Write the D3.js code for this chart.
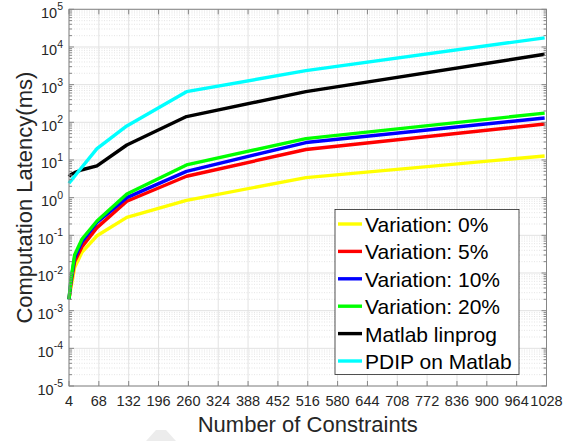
<!DOCTYPE html>
<html>
<head>
<meta charset="utf-8">
<script src="https://cdn.jsdelivr.net/npm/d3@7"></script>
<style>
  html, body { margin: 0; padding: 0; background: #fff; }
  svg { display: block; font-family: "Liberation Sans", Arial, sans-serif; }
</style>
</head>
<body>
<svg id="chart" width="576" height="441"></svg>
<script>
// ---- data ----
const constraints = [4, 8, 16, 32, 64, 128, 256, 512, 1024];
const seriesNames = ["Variation: 0%", "Variation: 5%", "Variation: 10%", "Variation: 20%", "Matlab linprog", "PDIP on Matlab"];
const seriesColors = ["#ffff00", "#ff0000", "#0000ff", "#00ff00", "#000000", "#00ffff"];
const var0  = [0.002, 0.004, 0.014, 0.036, 0.097, 0.30, 0.85, 3.4, 12.8];
const var5  = [0.002, 0.005, 0.020, 0.050, 0.16, 0.80, 3.7, 19, 90];
const var10 = [0.002, 0.006, 0.025, 0.068, 0.22, 1.0, 5.0, 29, 130];
const var20 = [0.002, 0.0065, 0.030, 0.080, 0.24, 1.25, 7.4, 37, 175];
const linprog = [3.6, 4.1, 4.6, 5.5, 7.0, 25, 142, 650, 6400];
const pdip  = [2.4, 2.8, 3.7, 6.5, 20, 80, 650, 2350, 17500];
const seriesValues = [var0, var5, var10, var20, linprog, pdip];
const xTicks = [4, 68, 132, 196, 260, 324, 388, 452, 516, 580, 644, 708, 772, 836, 900, 964, 1028];
const yExponents = [-5, -4, -3, -2, -1, 0, 1, 2, 3, 4, 5];

// ---- layout ----
const L = 69, R = 546.5, T = 9.3, B = 386;
const svg = d3.select("#chart");
const x = d3.scaleLinear().domain([4, 1028]).range([L, R]);
const y = d3.scaleLog().domain([1e-5, 1e5]).range([B, T]);

const axisCol = "#868686", textCol = "#262626";

// watermark (faint)
svg.append("path")
  .attr("d", "M146,441 L156,430 L166,430 L176,441 Z")
  .attr("fill", "#ececec");

// grid: minor horizontal (dotted)
const gGrid = svg.append("g");
for (let e = -5; e < 5; e++) {
  for (let m = 2; m <= 9; m++) {
    const v = m * Math.pow(10, e);
    gGrid.append("line")
      .attr("x1", L).attr("x2", R)
      .attr("y1", y(v)).attr("y2", y(v))
      .attr("stroke", "#dedede").attr("stroke-width", 0.8)
      .attr("stroke-dasharray", "1,1.5");
  }
}
// major horizontal grid
yExponents.forEach(e => {
  gGrid.append("line")
    .attr("x1", L).attr("x2", R)
    .attr("y1", y(Math.pow(10, e))).attr("y2", y(Math.pow(10, e)))
    .attr("stroke", "#e2e2e2").attr("stroke-width", 1);
});
// vertical grid
xTicks.forEach(t => {
  gGrid.append("line")
    .attr("x1", x(t)).attr("x2", x(t))
    .attr("y1", T).attr("y2", B)
    .attr("stroke", "#e2e2e2").attr("stroke-width", 1);
});

// ---- lines ----
const line = d3.line()
  .x((d, i) => x(constraints[i]))
  .y(d => y(d));
seriesValues.forEach((vals, k) => {
  svg.append("path")
    .datum(vals)
    .attr("d", line)
    .attr("fill", "none")
    .attr("stroke", seriesColors[k])
    .attr("stroke-width", 3.4)
    .attr("stroke-linejoin", "round");
});

// ---- axes box & ticks ----
const gAx = svg.append("g");
gAx.append("rect")
  .attr("x", L).attr("y", T).attr("width", R - L).attr("height", B - T)
  .attr("fill", "none").attr("stroke", axisCol).attr("stroke-width", 1);

xTicks.forEach(t => {
  gAx.append("line").attr("x1", x(t)).attr("x2", x(t)).attr("y1", B).attr("y2", B - 5)
    .attr("stroke", axisCol);
  gAx.append("line").attr("x1", x(t)).attr("x2", x(t)).attr("y1", T).attr("y2", T + 5)
    .attr("stroke", axisCol);
  gAx.append("text")
    .attr("x", x(t)).attr("y", 405.5)
    .attr("text-anchor", "middle")
    .attr("font-size", 14.5).attr("fill", textCol)
    .text(t);
});

for (let e = -5; e < 5; e++) {
  for (let m = 2; m <= 9; m++) {
    const v = m * Math.pow(10, e);
    gAx.append("line").attr("x1", L).attr("x2", L + 3).attr("y1", y(v)).attr("y2", y(v)).attr("stroke", axisCol);
    gAx.append("line").attr("x1", R).attr("x2", R - 3).attr("y1", y(v)).attr("y2", y(v)).attr("stroke", axisCol);
  }
}
yExponents.forEach(e => {
  const yy = y(Math.pow(10, e));
  gAx.append("line").attr("x1", L).attr("x2", L + 5).attr("y1", yy).attr("y2", yy).attr("stroke", axisCol);
  gAx.append("line").attr("x1", R).attr("x2", R - 5).attr("y1", yy).attr("y2", yy).attr("stroke", axisCol);
  const txt = gAx.append("text")
    .attr("x", 63).attr("y", yy + 8.5)
    .attr("text-anchor", "end")
    .attr("font-size", 14.5).attr("fill", textCol);
  txt.append("tspan").text("10");
  txt.append("tspan").attr("dy", -7.5).attr("font-size", 10.5).text(String(e));
});

// axis labels
svg.append("text")
  .attr("x", (L + R) / 2).attr("y", 431.5)
  .attr("text-anchor", "middle")
  .attr("font-size", 22).attr("fill", textCol)
  .text("Number of Constraints");
svg.append("text")
  .attr("transform", `translate(31.5,${(T + B) / 2}) rotate(-90)`)
  .attr("text-anchor", "middle")
  .attr("font-size", 22).attr("fill", textCol)
  .text("Computation Latency(ms)");

// ---- legend ----
const lg = svg.append("g");
lg.append("rect")
  .attr("x", 335).attr("y", 209.5).attr("width", 184).attr("height", 165)
  .attr("fill", "#fff").attr("stroke", "#262626").attr("stroke-width", 0.8);
seriesNames.forEach((name, k) => {
  const cy = 224 + k * 27.4;
  lg.append("line").attr("x1", 338).attr("x2", 362).attr("y1", cy).attr("y2", cy)
    .attr("stroke", seriesColors[k]).attr("stroke-width", 3.4);
  lg.append("text").attr("x", 365).attr("y", cy + 8)
    .attr("font-size", 21).attr("fill", "#000")
    .text(name);
});
</script>
</body>
</html>
